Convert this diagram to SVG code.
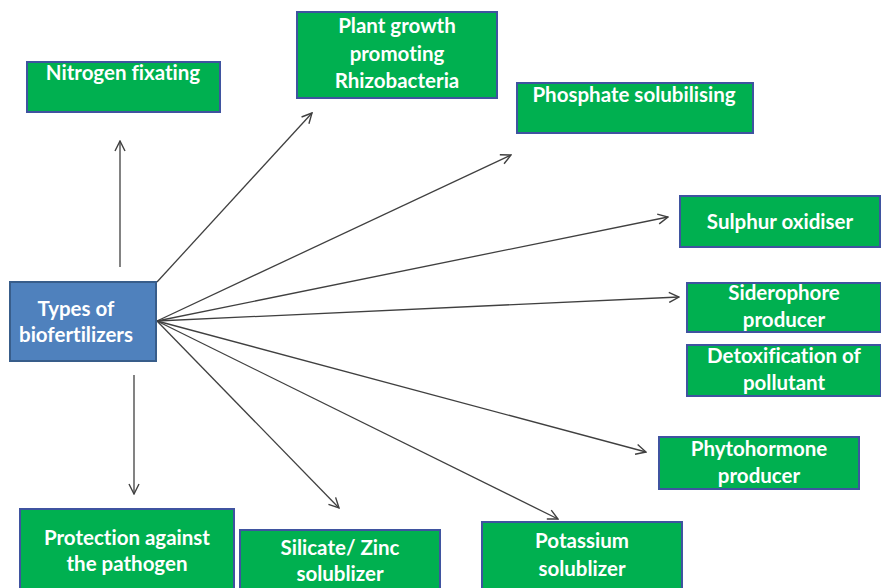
<svg xmlns="http://www.w3.org/2000/svg" width="881" height="588" viewBox="0 0 881 588">
  <style>
    .box { fill: #00b050; stroke: #3f53a0; stroke-width: 2; }
    .hub { fill: #4f81bd; stroke: #385d8a; stroke-width: 2; }
    .lbl { font-family: Lato, "Open Sans", "Liberation Sans", sans-serif; font-weight: bold; font-size: 20.5px; fill: #ffffff; text-anchor: middle; font-variant-ligatures: none; }
    .link { stroke: #404040; stroke-width: 1.3; fill: none; marker-end: url(#arrow); }
  </style>
  <defs>
    <marker id="arrow" viewBox="0 0 12 12" refX="11" refY="6" markerWidth="12" markerHeight="12" markerUnits="userSpaceOnUse" orient="auto">
      <path d="M1,1 L11,6 L1,11" fill="none" stroke="#404040" stroke-width="1.4"/>
    </marker>
  </defs>
  <rect width="881" height="588" fill="#ffffff"/>

  <g id="connectors">
    <line class="link" x1="120" y1="267" x2="120" y2="141"/>
    <line class="link" x1="157" y1="282" x2="312" y2="113"/>
    <line class="link" x1="157" y1="321" x2="511" y2="155"/>
    <line class="link" x1="157" y1="321" x2="668" y2="217"/>
    <line class="link" x1="157" y1="321" x2="679" y2="297"/>
    <line class="link" x1="157" y1="321" x2="646" y2="452"/>
    <line class="link" x1="157" y1="321" x2="558" y2="519"/>
    <line class="link" x1="157" y1="321" x2="339" y2="508"/>
    <line class="link" x1="134" y1="375" x2="134" y2="494"/>
  </g>

  <g id="types-of-biofertilizers">
    <rect class="hub" x="10" y="282" width="146" height="79"/>
    <text class="lbl" x="76" y="316">Types of</text>
    <text class="lbl" x="76" y="342">biofertilizers</text>
  </g>

  <g id="nitrogen-fixating">
    <rect class="box" x="27" y="62" width="193" height="50"/>
    <text class="lbl" x="123" y="80">Nitrogen fixating</text>
  </g>

  <g id="pgpr">
    <rect class="box" x="297" y="12" width="200" height="86"/>
    <text class="lbl" x="397" y="33">Plant growth</text>
    <text class="lbl" x="397" y="61">promoting</text>
    <text class="lbl" x="397" y="88">Rhizobacteria</text>
  </g>

  <g id="phosphate-solubilising">
    <rect class="box" x="517" y="83" width="236" height="50"/>
    <text class="lbl" x="634" y="102">Phosphate solubilising</text>
  </g>

  <g id="sulphur-oxidiser">
    <rect class="box" x="680" y="196" width="200" height="51"/>
    <text class="lbl" x="780" y="229">Sulphur oxidiser</text>
  </g>

  <g id="siderophore-producer">
    <rect class="box" x="687" y="283" width="194" height="49"/>
    <text class="lbl" x="784" y="300">Siderophore</text>
    <text class="lbl" x="784" y="327">producer</text>
  </g>

  <g id="detoxification">
    <rect class="box" x="687" y="345" width="194" height="51"/>
    <text class="lbl" x="784" y="363">Detoxification of</text>
    <text class="lbl" x="784" y="390">pollutant</text>
  </g>

  <g id="phytohormone-producer">
    <rect class="box" x="659" y="437" width="200" height="52"/>
    <text class="lbl" x="759" y="456">Phytohormone</text>
    <text class="lbl" x="759" y="483">producer</text>
  </g>

  <g id="potassium-solublizer">
    <rect class="box" x="482" y="522" width="200" height="70"/>
    <text class="lbl" x="582" y="548">Potassium</text>
    <text class="lbl" x="582" y="576">solublizer</text>
  </g>

  <g id="silicate-zinc-solublizer">
    <rect class="box" x="240" y="530" width="200" height="62"/>
    <text class="lbl" x="340" y="555">Silicate/ Zinc</text>
    <text class="lbl" x="340" y="581">solublizer</text>
  </g>

  <g id="pathogen-protection">
    <rect class="box" x="20" y="509" width="214" height="83"/>
    <text class="lbl" x="127" y="545">Protection against</text>
    <text class="lbl" x="127" y="571">the pathogen</text>
  </g>
</svg>
